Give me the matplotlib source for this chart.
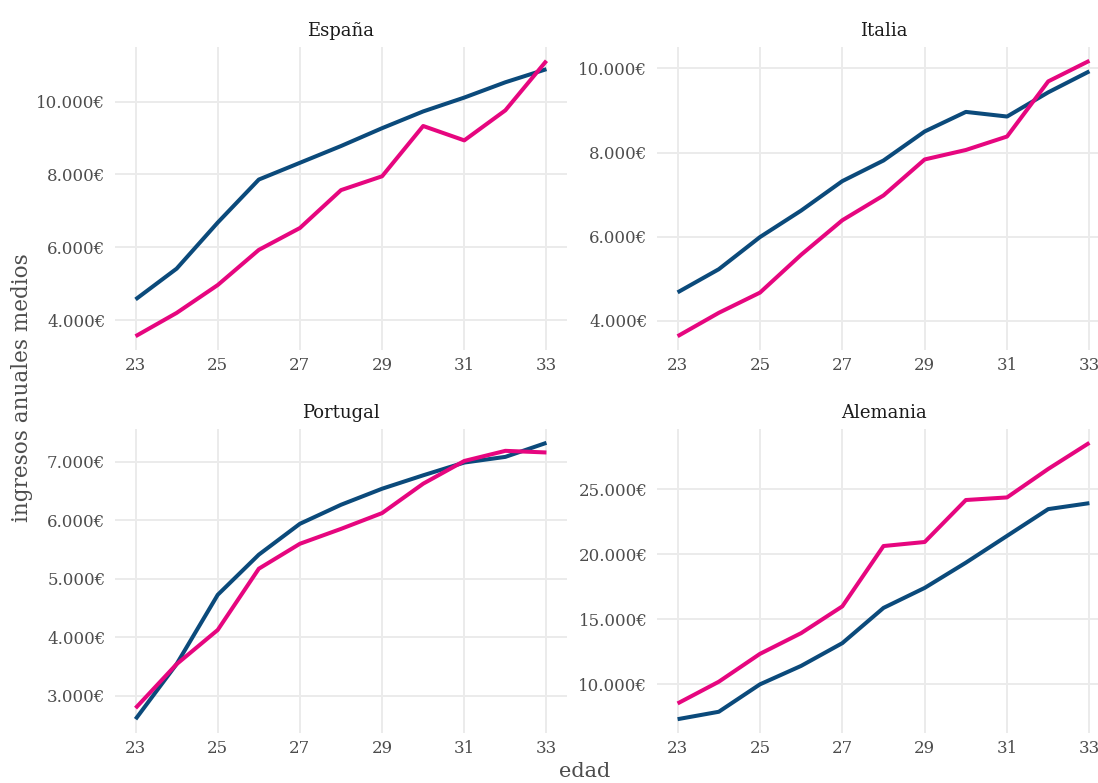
import numpy as np
import matplotlib
matplotlib.use("Agg")
import matplotlib.pyplot as plt
from matplotlib.ticker import FuncFormatter

edad = [23, 24, 25, 26, 27, 28, 29, 30, 31, 32, 33]

paises = ["España", "Italia", "Portugal", "Alemania"]

# ingresos medios por edad (serie azul y serie rosa)
espana_azul = [4570, 5415, 6680, 7860, 8320, 8780, 9270, 9730, 10110, 10530, 10890]
espana_rosa = [3560, 4200, 4965, 5930, 6530, 7570, 7950, 9330, 8935, 9760, 11120]
italia_azul = [4676, 5226, 5990, 6620, 7320, 7810, 8500, 8965, 8855, 9430, 9930]
italia_rosa = [3634, 4190, 4670, 5570, 6390, 6980, 7835, 8060, 8380, 9690, 10180]
portugal_azul = [2600, 3542, 4724, 5410, 5937, 6262, 6536, 6765, 6983, 7080, 7320]
portugal_rosa = [2789, 3540, 4124, 5170, 5596, 5850, 6120, 6622, 7010, 7183, 7155]
alemania_azul = [7320, 7890, 10000, 11420, 13170, 15880, 17420, 19360, 21420, 23480, 23940]
alemania_rosa = [8530, 10200, 12345, 13940, 16000, 20640, 20950, 24180, 24380, 26570, 28580]

azul = [espana_azul, italia_azul, portugal_azul, alemania_azul]
rosa = [espana_rosa, italia_rosa, portugal_rosa, alemania_rosa]
yticks = [
    [4000, 6000, 8000, 10000],
    [4000, 6000, 8000, 10000],
    [3000, 4000, 5000, 6000, 7000],
    [10000, 15000, 20000, 25000],
]

COL_AZUL = "#0b4a7b"
COL_ROSA = "#e6067f"
GRID = "#ebebeb"
TXT = "#4d4d4d"

plt.rcParams["font.family"] = ["DejaVu Serif"]

W, H = 1098, 783
fig = plt.figure(figsize=(W / 100, H / 100), dpi=100)

# panel boxes in pixels: left, right, top, bottom
boxes = [
    (115, 567, 47, 350),
    (657, 1110, 47, 350),
    (115, 567, 429, 733),
    (657, 1110, 429, 733),
]


def euro(v, pos):
    return f"{int(v):,}".replace(",", ".") + "€"


for i, (l, r, t, b) in enumerate(boxes):
    ax = fig.add_axes([l / W, 1 - b / H, (r - l) / W, (b - t) / H])
    ax.plot(edad, azul[i], color=COL_AZUL, lw=2.9, solid_capstyle="butt", zorder=3)
    ax.plot(edad, rosa[i], color=COL_ROSA, lw=2.9, solid_capstyle="butt", zorder=3)
    ax.margins(x=0.05, y=0.05)
    ax.set_xticks([23, 25, 27, 29, 31, 33])
    ax.set_yticks(yticks[i])
    ax.yaxis.set_major_formatter(FuncFormatter(euro))
    ax.grid(True, color=GRID, lw=1.4, zorder=0)
    ax.set_axisbelow(True)
    for s in ax.spines.values():
        s.set_visible(False)
    ax.tick_params(length=0, labelsize=12, labelcolor=TXT)
    ax.tick_params(axis="y", pad=7)
    ax.tick_params(axis="x", pad=5)
    ax.set_title(paises[i], fontsize=13, color="#1a1a1a", pad=8)

fig.text(22 / W, 1 - 388 / H, "ingresos anuales medios", rotation=90,
         ha="center", va="center", fontsize=15.5, color=TXT)
fig.text(585 / W, 1 - 781 / H, "edad", ha="center", va="bottom",
         fontsize=15, color=TXT)

fig.savefig("out.png", dpi=100, facecolor="white")
